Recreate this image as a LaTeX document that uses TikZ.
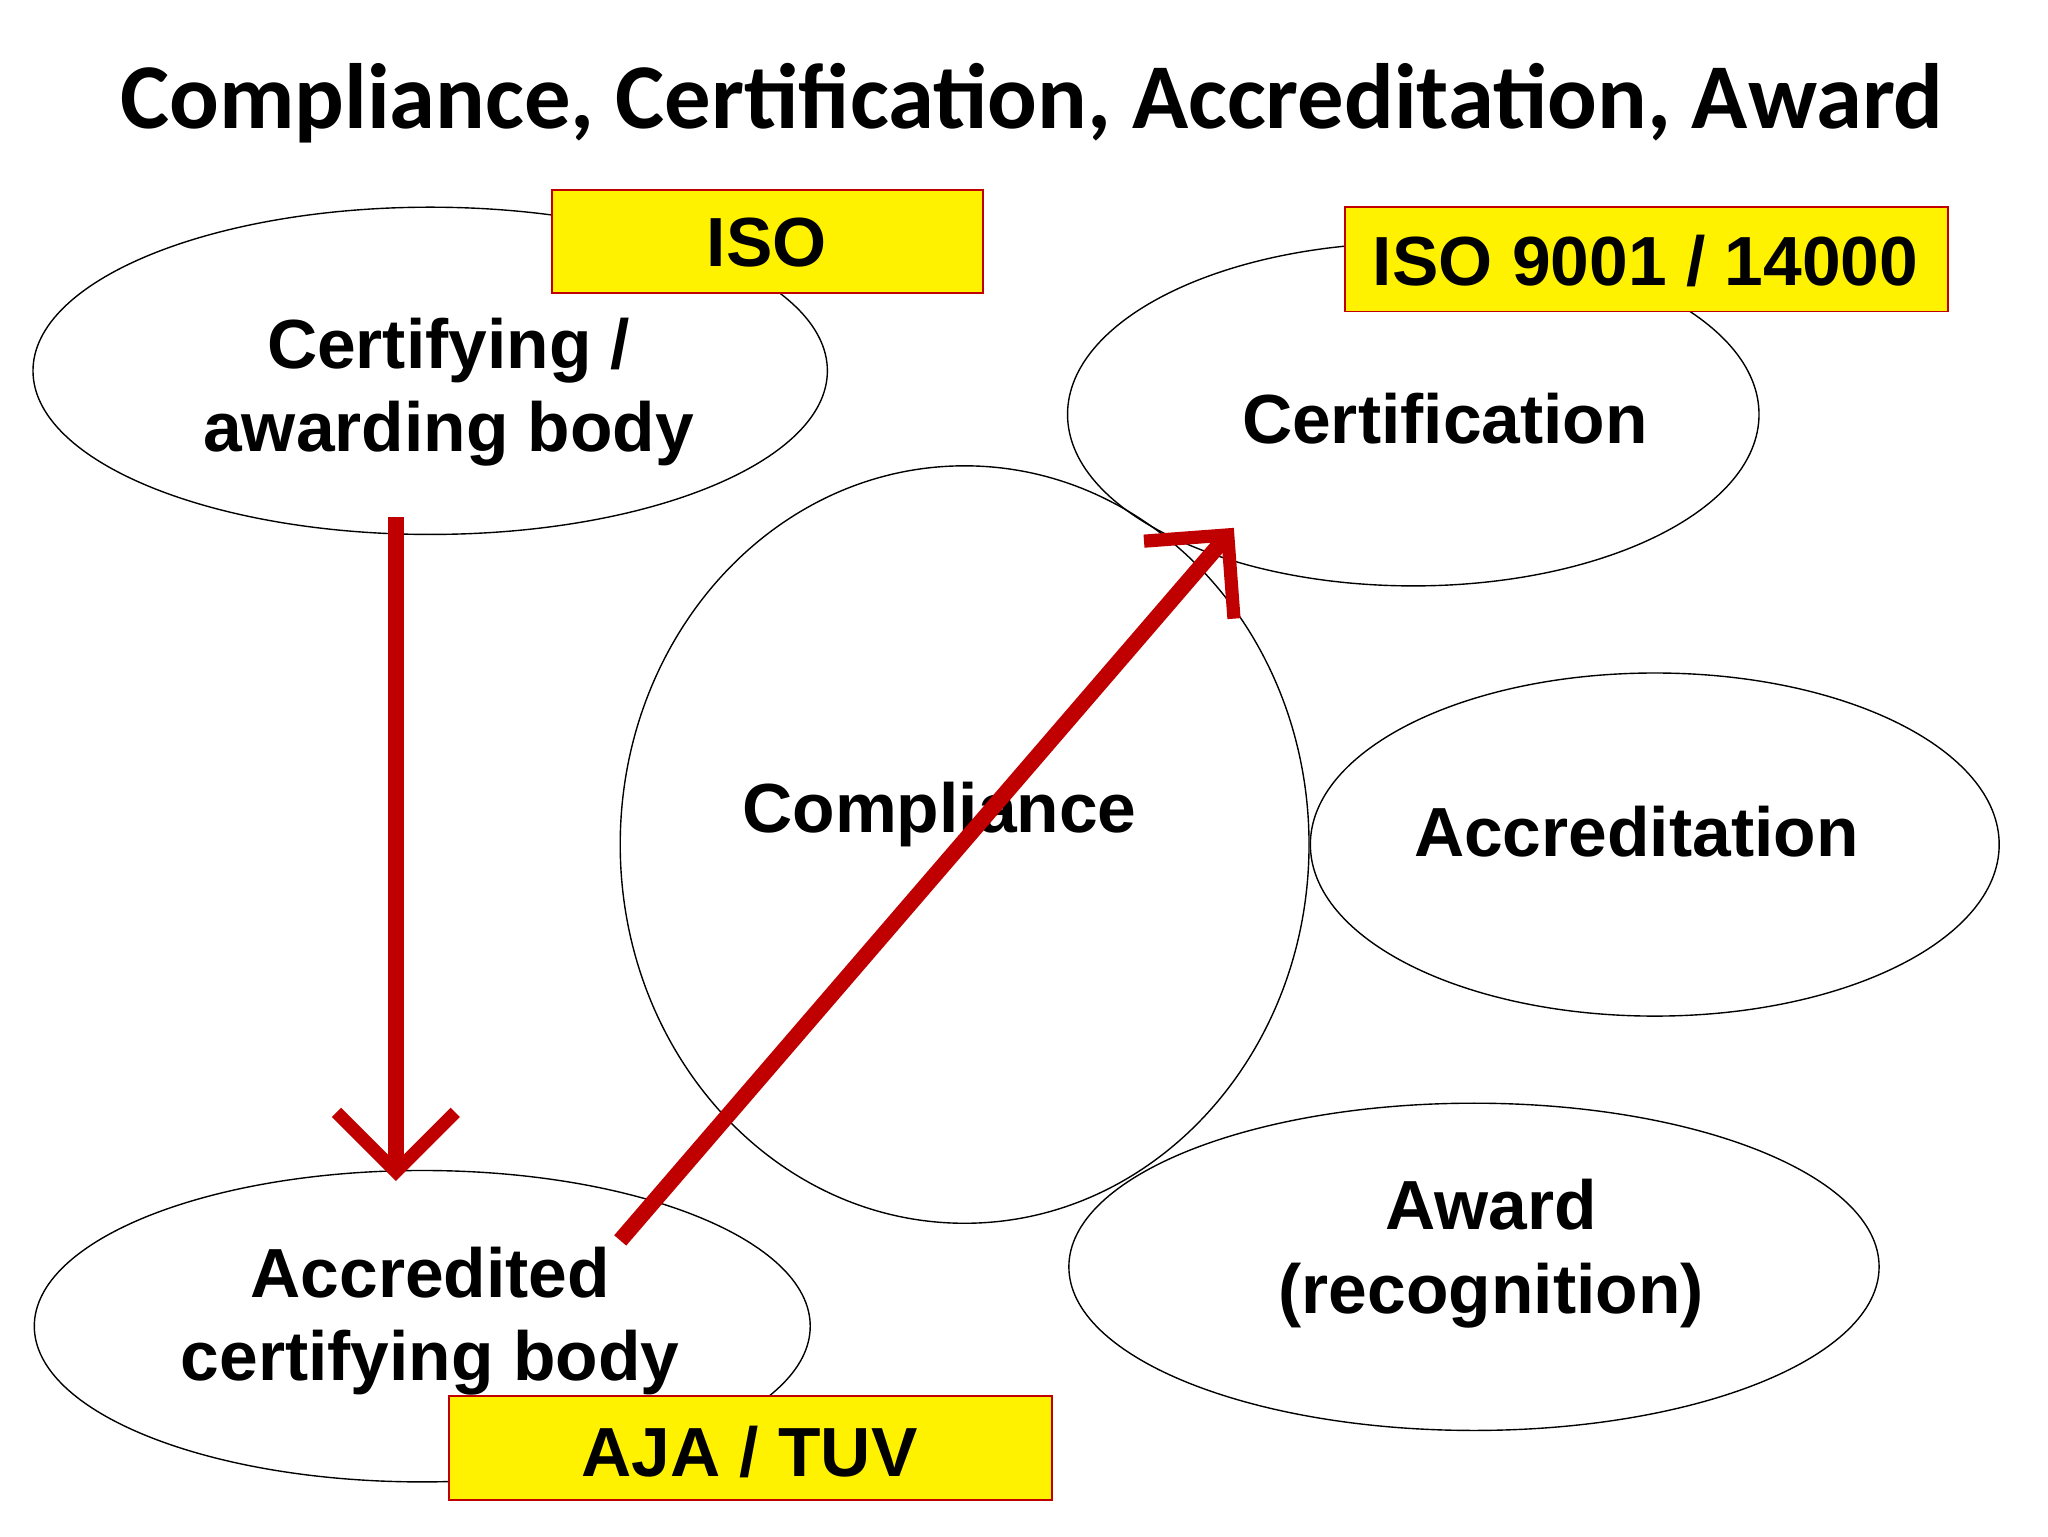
\documentclass[tikz,border=0pt]{standalone}
\usepackage{fontspec}
\setmainfont{Liberation Sans}
\newfontfamily\titlefont{Carlito}
\usetikzlibrary{arrows.meta}
\definecolor{arr}{RGB}{192,0,0}
\begin{document}
\begin{tikzpicture}[x=0.02cm,y=-0.02cm,
 ell/.style={draw,ellipse,line width=0.6pt},
 lbl/.style={font=\fontsize{30}{36}\selectfont\bfseries,align=center},
 ybox/.style={draw=arr,fill=yellow,line width=0.8pt,inner sep=0pt},
 bigarrow/.style={draw=arr,line width=0.24cm,-{Straight Barb[length=0.9cm,width=1.8cm,line width=0.2cm]}}]
\useasboundingbox (0,0) rectangle (1552,1164);
\node[font=\titlefont\fontsize{40}{48}\selectfont\bfseries] (title) at (782,78) {Compliance, Certification, Accreditation, Award};
\draw[line width=0.6pt] (326,281) ellipse [x radius=301,y radius=124];
\draw[line width=0.6pt] (1071,314) ellipse [x radius=262,y radius=130];
\draw[line width=0.6pt] (731,640) ellipse [x radius=261,y radius=287];
\draw[line width=0.6pt] (1254,640) ellipse [x radius=261,y radius=130];
\draw[line width=0.6pt] (1117,960) ellipse [x radius=307,y radius=124];
\draw[line width=0.6pt] (320,1005) ellipse [x radius=294,y radius=118];
\node[lbl] (cab) at (340,297) {Certifying /\\awarding body};
\node[lbl] (cert) at (1095,317) {Certification};
\node[lbl] (comp) at (712,617) {Compliance};
\node[lbl] (accr) at (1240,630) {Accreditation};
\node[lbl] (award) at (1130,950) {Award\\(recognition)};
\node[lbl] (acb) at (326,1001) {Accredited\\certifying body};
\draw[ybox] (418,144) rectangle (745,222);
\node[lbl] (iso) at (581,184) {ISO};
\draw[ybox] (1019,157) rectangle (1476,236);
\node[lbl] (iso2) at (1247,198) {ISO 9001 / 14000};
\draw[ybox] (340,1058) rectangle (797,1137);
\node[lbl] (aja) at (568,1100) {AJA / TUV};
\coordinate (a1) at (300,392);
\coordinate (a2) at (300,895);
\coordinate (b1) at (470,940);
\coordinate (b2) at (935,400);
\draw[bigarrow] (a1) -- (a2);
\draw[bigarrow] (b1) -- (b2);
\end{tikzpicture}
\end{document}
